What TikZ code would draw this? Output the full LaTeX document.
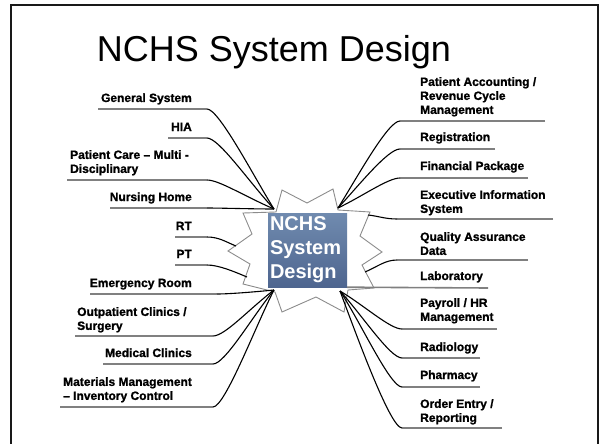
\documentclass[tikz,border=0pt]{standalone}
\usepackage{fontspec}
\setmainfont{Liberation Sans}
\newfontfamily\heavysans{Liberation Sans}[BoldFeatures={FakeBold=1.2}]
\definecolor{coretop}{RGB}{112,139,175}
\definecolor{corebottom}{RGB}{78,101,143}
\usetikzlibrary{positioning}

\begin{document}
\begin{tikzpicture}[
  x=1pt,y=-1pt,
  itemlabel/.style={
    font=\heavysans\bfseries\fontsize{12}{14}\selectfont,
    inner sep=0pt
  },
  underline/.style={
    draw=black!50,
    line width=1.6pt
  },
  link/.style={
    draw=black,
    line width=1.1pt
  },
  burst/.style={
    draw=black!45,
    line width=0.9pt,
    fill=white
  },
  coreblock/.style={
    rectangle,
    top color=coretop,
    bottom color=corebottom,
    inner sep=0pt,
    minimum width=79pt,
    minimum height=74pt,
    text width=75pt,
    align=left,
    text=white,
    font=\bfseries\fontsize{20}{24}\selectfont
  }]
  \useasboundingbox (0,0) rectangle (600,444);
  \draw[line width=1.8pt,draw=black!90] (11,5) rectangle (598,470);
  \node[font=\fontsize{36}{40}\selectfont,anchor=base] (title) at (274,62) {NCHS System Design};

  % starburst behind the centre block
  \draw[burst] (282,190) -- (307,203) -- (333,189) -- (338,210) -- (370,212)
    -- (360,236) -- (382,252) -- (362,265) -- (374,288) -- (348,290)
    -- (344,312) -- (316,297) -- (282,312) -- (275,292) -- (243,284)
    -- (250,264) -- (228,251) -- (252,234) -- (243,213) -- (276,212) -- cycle;

  \coordinate (hubTL) at (274,209);
  \coordinate (hubBL) at (274,290);
  \coordinate (hubTR) at (338,208);
  \coordinate (hubBR) at (340,291);
  \coordinate (tipRT) at (236,246);
  \coordinate (tipPT) at (247,277);
  \coordinate (tipEX) at (368,215);
  \coordinate (tipQA) at (365,272);

  % left side
  \foreach \n/\xa/\xb/\yy/\cx/\cy/\hub in {
      gen/98/207/109/-20/-32/hubTL, hia/168/207/138/-25/-27/hubTL,
      pcare/67/207/180/-30/-13/hubTL, nurs/110/207/208/-20/0/hubTL,
      rt/175/207/237/-10/-4/tipRT, pt/175/207/265/-12/-5/tipPT,
      er/90/217/294/-20/2/hubBL, outp/75/213/336/-25/19/hubBL,
      med/103/213/364/-22/27/hubBL, mat/60/213/407/-18/35/hubBL} {
    \draw[underline] (\xa,\yy) -- (\xb,\yy) coordinate (\n-end);
    \draw[link] (\n-end) .. controls +(12,0) and +(\cx,\cy) .. (\hub);
  }

  % right side
  \foreach \n/\xa/\xb/\yy/\cx/\cy/\hub in {
      pacc/400/545/121/20/-32/hubTR, reg/400/495/149/22/-24/hubTR,
      fin/400/528/178/25/-12/hubTR, exec/397/553/219/10/1/tipEX,
      qa/397/528/260/12/-5/tipQA, pay/402/497/329/25/15/hubBR,
      rad/402/480/358/22/24/hubBR, pha/402/480/387/20/30/hubBR,
      ord/402/502/428/15/40/hubBR} {
    \draw[underline] (\xb,\yy) -- (\xa,\yy) coordinate (\n-end);
    \draw[link] (\n-end) .. controls +(-12,0) and +(\cx,\cy) .. (\hub);
  }

  \node[coreblock] (core) at (307.5,250) {NCHS\\System\\Design};
  \draw[underline] (core.south east) -- (488,288);

  \node[itemlabel,anchor=base east] (gen) at (192,102) {General System};
  \node[itemlabel,anchor=base east] (hia) at (192,131) {HIA};
  \node[itemlabel,anchor=north west,align=left] (pcare) at (70,150) {Patient Care – Multi -\\Disciplinary};
  \node[itemlabel,anchor=base east] (nurs) at (192,201) {Nursing Home};
  \node[itemlabel,anchor=base east] (rt) at (192,230) {RT};
  \node[itemlabel,anchor=base east] (pt) at (192,258) {PT};
  \node[itemlabel,anchor=base east] (er) at (192,287) {Emergency Room};
  \node[itemlabel,anchor=north west,align=left] (outp) at (77,307) {Outpatient Clinics /\\Surgery};
  \node[itemlabel,anchor=base east] (med) at (192,357) {Medical Clinics};
  \node[itemlabel,anchor=north west,align=left] (mat) at (63,377) {Materials Management\\– Inventory Control};

  \node[itemlabel,anchor=north west,align=left] (pacc) at (420,77) {Patient Accounting /\\Revenue Cycle\\Management};
  \node[itemlabel,anchor=base west] (reg) at (420,141) {Registration};
  \node[itemlabel,anchor=base west] (fin) at (420,170) {Financial Package};
  \node[itemlabel,anchor=north west,align=left] (exec) at (420,190) {Executive Information\\System};
  \node[itemlabel,anchor=north west,align=left] (qa) at (420,232) {Quality Assurance\\Data};
  \node[itemlabel,anchor=base west] (lab) at (420,280) {Laboratory};
  \node[itemlabel,anchor=north west,align=left] (pay) at (420,298) {Payroll / HR\\Management};
  \node[itemlabel,anchor=base west] (rad) at (420,351) {Radiology};
  \node[itemlabel,anchor=base west] (pha) at (420,379) {Pharmacy};
  \node[itemlabel,anchor=north west,align=left] (ord) at (420,399) {Order Entry /\\Reporting};
\end{tikzpicture}
\end{document}
